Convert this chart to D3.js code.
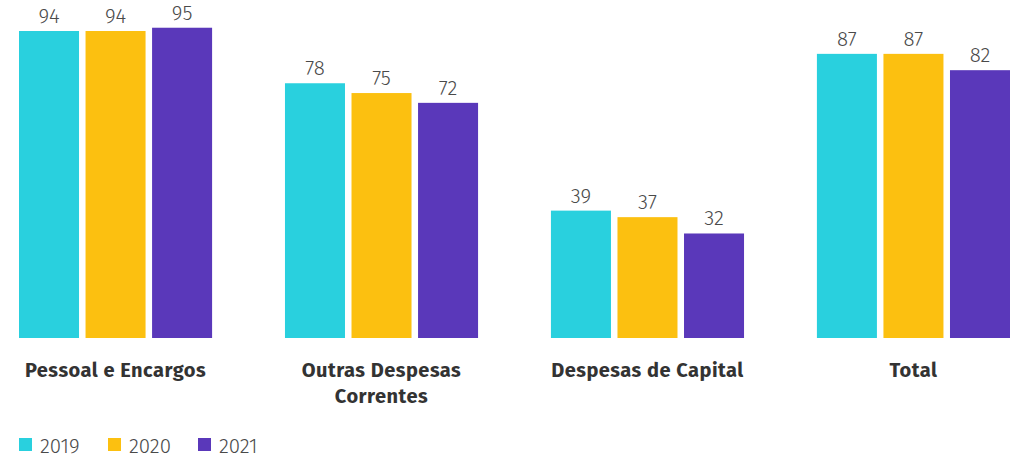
<!DOCTYPE html>
<html>
<head>
<meta charset="utf-8">
<script src="https://cdn.jsdelivr.net/npm/d3@7"></script>
<style>
  html, body { margin: 0; padding: 0; background: #fff; }
  svg { display: block; font-family: "Fira Sans", "Open Sans", "Noto Sans", sans-serif; }
</style>
</head>
<body>
<svg id="chart" width="1017" height="458"></svg>
<script>
// Categories (each label may span several lines)
const categories = [
  ["Pessoal e Encargos"],
  ["Outras Despesas", "Correntes"],
  ["Despesas de Capital"],
  ["Total"]
];
const years = ["2019", "2020", "2021"];
const colors = ["#29D0DE", "#FCC010", "#5A38BA"];

// Values per year, in category order
const values2019 = [94, 78, 39, 87];
const values2020 = [94, 75, 37, 87];
const values2021 = [95, 72, 32, 82];
const seriesValues = [values2019, values2020, values2021];

const svg = d3.select("#chart");
const catKeys = categories.map(c => c.join(" "));

const x0 = d3.scaleBand()
  .domain(catKeys)
  .range([19, 1010])
  .paddingInner(0.274)
  .paddingOuter(0);

const x1 = d3.scaleBand()
  .domain(years)
  .range([0, x0.bandwidth()])
  .paddingInner(0.098)
  .paddingOuter(0);

const y = d3.scaleLinear()
  .domain([0, 100])
  .range([338, 11.4]);

const color = d3.scaleOrdinal().domain(years).range(colors);

const rows = [];
catKeys.forEach((k, ci) => {
  years.forEach((yr, si) => {
    rows.push({ cat: k, year: yr, value: seriesValues[si][ci] });
  });
});

const g = svg.append("g");

g.selectAll("rect.bar")
  .data(rows)
  .join("rect")
  .attr("class", "bar")
  .attr("x", d => x0(d.cat) + x1(d.year))
  .attr("y", d => y(d.value))
  .attr("width", x1.bandwidth())
  .attr("height", d => y(0) - y(d.value))
  .attr("fill", d => color(d.year));

g.selectAll("text.val")
  .data(rows)
  .join("text")
  .attr("class", "val")
  .attr("x", d => x0(d.cat) + x1(d.year) + x1.bandwidth() / 2)
  .attr("y", d => y(d.value) - 8)
  .attr("text-anchor", "middle")
  .attr("font-size", 20.5)
  .attr("font-weight", 300)
  .attr("fill", "#4a4a4a")
  .text(d => d.value);

// Category labels under the groups
const catLabels = g.selectAll("text.cat")
  .data(categories)
  .join("text")
  .attr("class", "cat")
  .attr("x", (d, i) => x0(catKeys[i]) + x0.bandwidth() / 2)
  .attr("y", 377)
  .attr("text-anchor", "middle")
  .attr("font-size", 20)
  .attr("font-weight", 700)
  .attr("letter-spacing", 0.5)
  .attr("fill", "#333");

catLabels.selectAll("tspan")
  .data(d => d)
  .join("tspan")
  .attr("x", function () { return d3.select(this.parentNode).attr("x"); })
  .attr("dy", (d, i) => i === 0 ? 0 : 26)
  .text(d => d);

// Legend
const legendX = [19, 108, 198];
const legend = svg.append("g")
  .selectAll("g")
  .data(years)
  .join("g")
  .attr("transform", (d, i) => `translate(${legendX[i]},438)`);

legend.append("rect")
  .attr("width", 13)
  .attr("height", 13)
  .attr("fill", d => color(d));

legend.append("text")
  .attr("x", 21)
  .attr("y", 15)
  .attr("font-size", 20.5)
  .attr("font-weight", 300)
  .attr("fill", "#4a4a4a")
  .text(d => d);
</script>
</body>
</html>
